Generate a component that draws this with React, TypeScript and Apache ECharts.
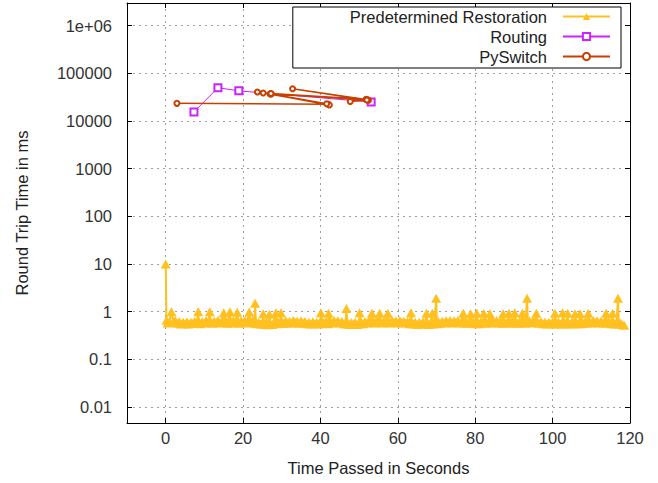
import React, { useEffect, useRef } from "react";
import * as echarts from "echarts";

// Predetermined Restoration: [time in s, round trip time in ms]
const restorationPoints: [number, number][] = [
  [0, 10], [0.2, 0.66], [0.5, 0.58], [1, 0.63], [1.5, 1.0], [2, 0.6], [2.5, 0.65], [3, 0.57], [3.5, 0.62], [4, 0.55],
  [4.5, 0.6], [5, 0.56], [5.5, 0.61], [6, 0.55], [6.5, 0.6], [7, 0.57], [7.5, 0.63], [8, 0.58], [8.4, 1.0], [8.5, 0.64],
  [9, 0.56], [9.5, 0.62], [10, 0.58],
  [10.5, 0.65], [11, 0.59], [11.4, 1.0], [11.5, 0.64], [12, 0.57], [12.5, 0.63], [13, 0.6], [13.5, 0.66], [14, 0.58],
  [14.5, 0.63], [15, 0.95], [15.2, 0.6], [15.5, 0.65], [16, 0.57], [16.6, 1.0], [16.8, 0.62], [17, 0.58], [17.5, 0.65],
  [18, 0.59], [18.5, 0.97], [18.7, 0.63], [19, 0.57], [19.5, 0.64], [20, 0.59],
  [20.5, 0.65], [21, 0.58], [21.6, 0.98], [21.8, 0.63], [22, 0.6], [22.5, 0.66], [23, 0.58], [23.1, 1.5], [23.3, 0.62],
  [23.5, 0.56], [24, 0.6], [24.5, 0.55], [25, 0.59], [25.2, 0.9], [25.5, 0.54], [26, 0.6], [26.5, 0.53], [26.8, 0.88],
  [27, 0.57], [27.5, 0.54], [28, 0.6], [28.5, 0.95], [28.7, 0.56], [29, 0.61], [29.5, 0.57], [29.8, 0.95], [30, 0.62],
  [30.5, 0.57], [31, 0.64], [31.5, 0.58], [32, 0.63], [32.5, 0.58], [33, 0.65], [33.5, 0.59], [34, 0.63], [34.5, 0.57],
  [35, 0.64], [35.5, 0.58], [36, 0.62], [36.5, 0.56], [37, 0.6], [37.5, 0.55], [38, 0.61], [38.5, 0.56], [39, 0.6],
  [39.5, 0.55], [40, 0.62], [40.1, 0.95], [40.3, 0.58],
  [40.5, 0.63], [41, 0.57], [41.5, 0.62], [42, 0.56], [42.1, 0.92], [42.3, 0.6], [42.5, 0.64], [43, 0.58], [43.5, 0.65],
  [44, 0.59], [44.5, 0.64], [45, 0.58], [45.5, 0.62], [46, 0.56], [46.5, 0.6], [46.7, 1.17], [46.9, 0.55], [47, 0.6],
  [47.5, 0.54], [48, 0.59], [48.5, 0.55], [49, 0.6], [49.5, 0.54], [50, 0.59], [50.1, 0.95], [50.3, 0.56],
  [50.5, 0.61], [51, 0.56], [51.5, 0.62], [52, 0.58], [52.5, 0.64], [53, 0.59], [53.3, 0.92], [53.5, 0.64], [54, 0.58],
  [54.5, 0.65], [55, 0.6], [55.3, 0.92], [55.5, 0.63], [56, 0.58], [56.5, 0.64], [57, 0.59], [57.4, 0.92], [57.6, 0.63],
  [58, 0.58], [58.5, 0.65], [59, 0.6], [59.5, 0.64], [60, 0.58],
  [60.5, 0.65], [61, 0.59], [61.5, 0.63], [62, 0.58], [62.5, 0.62], [63, 0.56], [63.4, 0.95], [63.6, 0.6], [64, 0.55],
  [64.5, 0.6], [65, 0.54], [65.5, 0.6], [66, 0.55], [66.5, 0.61], [67, 0.55], [67.4, 0.92], [67.6, 0.6], [68, 0.54],
  [68.5, 0.6], [68.9, 0.92], [69, 0.55], [69.5, 0.61], [69.9, 1.9], [70.1, 0.56],
  [70.5, 0.62], [71, 0.57], [71.5, 0.63], [72, 0.58], [72.5, 0.64], [73, 0.59], [73.5, 0.65], [74, 0.58], [74.5, 0.64],
  [75, 0.6], [75.5, 0.65], [76, 0.58], [76.5, 0.63], [76.9, 0.92], [77.1, 0.58], [77.5, 0.64], [78, 0.57], [78.5, 0.63],
  [78.8, 0.9], [79, 0.57], [79.5, 0.62], [80, 0.56],
  [80.4, 0.92], [80.6, 0.61], [81, 0.56], [81.5, 0.62], [82, 0.58], [82.2, 0.92], [82.5, 0.64], [83, 0.58], [83.5, 0.63],
  [83.8, 0.9], [84, 0.58], [84.5, 0.64], [85, 0.59], [85.5, 0.65], [86, 0.58], [86.5, 0.63], [87, 0.57], [87.2, 0.9],
  [87.5, 0.62], [88, 0.58], [88.5, 0.64], [88.7, 0.92], [89, 0.58], [89.5, 0.63], [90, 0.58],
  [90.2, 0.95], [90.5, 0.62], [91, 0.57], [91.5, 0.63], [92, 0.58], [92.2, 0.92], [92.5, 0.64], [93, 0.58], [93.4, 1.9],
  [93.6, 0.6], [94, 0.64], [94.5, 0.58], [95, 0.65], [95.5, 0.59], [95.8, 0.92], [96, 0.63], [96.5, 0.57], [97, 0.61],
  [97.5, 0.56], [98, 0.6], [98.5, 0.55], [99, 0.6], [99.5, 0.56], [100, 0.61],
  [100.5, 0.55], [100.6, 0.92], [100.8, 0.6], [101, 0.56], [101.5, 0.61], [102, 0.55], [102.5, 0.6], [102.6, 0.95],
  [102.8, 0.56], [103, 0.61], [103.5, 0.56], [103.9, 0.92], [104, 0.6], [104.5, 0.55], [105, 0.61], [105.5, 0.56],
  [105.8, 0.9], [106, 0.6], [106.5, 0.56], [107, 0.61], [107.1, 0.9], [107.3, 0.56], [107.5, 0.62], [108, 0.57],
  [108.5, 0.63], [109, 0.58], [109.2, 0.92], [109.5, 0.63], [110, 0.58],
  [110.5, 0.65], [111, 0.59], [111.5, 0.64], [112, 0.58], [112.5, 0.63], [113, 0.58], [113.5, 0.64], [113.8, 0.92],
  [114, 0.58], [114.5, 0.62], [115, 0.56], [115.5, 0.92], [115.7, 0.6], [116, 0.55], [116.5, 0.6], [116.9, 1.9],
  [117.1, 0.55], [117.5, 0.58], [118, 0.54], [118.5, 0.52],
];

const routingPoints: [number, number][] = [
  [7.3, 15500], [13.5, 50000], [18.9, 43000], [53.1, 25000],
];

const pyswitchPoints: [number, number][] = [
  [2.9, 23500], [42.0, 22500], [23.7, 40600], [25.2, 38700], [27.1, 37500], [42.3, 21800],
  [27.0, 37000], [41.6, 23000], [27.3, 36800], [52.2, 28000], [32.8, 47700], [52.4, 27200],
  [27.2, 37800], [51.8, 28500], [47.7, 25800], [52.0, 27600],
];

const seriesNames = ["Predetermined Restoration", "Routing", "PySwitch"];
const xLabelStep = 20;

const FONT = "Liberation Sans, Arial, sans-serif";
const FS = 16.5;

export default function App() {
  const ref = useRef<HTMLDivElement>(null);
  useEffect(() => {
    if (!ref.current) return;
    const chart = echarts.init(ref.current, undefined, { renderer: "svg" });
    const grid = { left: 127, right: 28, top: 3, bottom: 60 };
    const splitLine = { show: true, lineStyle: { color: "#a0a0a0", type: [2, 4] as any, width: 1 } };
    const axisLine = { show: true, onZero: false, lineStyle: { color: "#000", width: 1 } };
    const axisTick = { show: true, inside: true, length: 5, lineStyle: { color: "#000" } };
    chart.setOption({
      animation: false,
      textStyle: { fontFamily: FONT },
      grid,
      legend: {
        data: seriesNames,
        orient: "vertical",
        align: "right",
        right: 37,
        top: 7,
        padding: [1, 10, 3, 57],
        itemWidth: 47,
        itemHeight: 9,
        itemGap: 3,
        backgroundColor: "#fff",
        borderColor: "#000",
        borderWidth: 1,
        borderRadius: 0,
        textStyle: { fontSize: FS, color: "#222", fontFamily: FONT, padding: [0, 11, 0, 0] },
      },
      xAxis: [
        {
          type: "value",
          min: -10,
          max: 120,
          splitNumber: 130 / xLabelStep,
          position: "bottom",
          name: "Time Passed in Seconds",
          nameLocation: "middle",
          nameGap: 36,
          nameTextStyle: { fontSize: FS, color: "#222", fontFamily: FONT },
          axisLine,
          axisTick,
          axisLabel: { fontSize: FS, color: "#333", margin: 6, showMinLabel: false, fontFamily: FONT },
          splitLine,
        },
        {
          type: "value",
          min: -10,
          max: 120,
          splitNumber: 130 / xLabelStep,
          position: "top",
          axisLine,
          axisTick,
          axisLabel: { show: false },
          splitLine: { show: false },
        },
      ],
      yAxis: [
        {
          type: "log",
          logBase: 10,
          min: 0.0046,
          max: 3e6,
          position: "left",
          name: "Round Trip Time in ms",
          nameLocation: "middle",
          nameGap: 97,
          nameTextStyle: { fontSize: FS, color: "#222", fontFamily: FONT },
          axisLine,
          axisTick,
          axisLabel: {
            fontSize: FS,
            color: "#333",
            margin: 15,
            showMinLabel: false,
            showMaxLabel: false,
            fontFamily: FONT,
            formatter: (v: number) => (v >= 1e6 ? "1e+06" : String(v)),
          },
          splitLine,
          minorTick: { show: false },
        },
        {
          type: "log",
          logBase: 10,
          min: 0.0046,
          max: 3e6,
          position: "right",
          axisLine,
          axisTick,
          axisLabel: { show: false },
          splitLine: { show: false },
        },
      ],
      series: [
        {
          name: seriesNames[0],
          type: "line",
          data: restorationPoints,
          symbol: "triangle",
          symbolSize: [10, 9],
          showAllSymbol: true,
          itemStyle: { color: "#ffc020" },
          lineStyle: { color: "#ffc020", width: 2 },
        },
        {
          name: seriesNames[1],
          type: "line",
          data: routingPoints,
          symbol: "emptyRect",
          symbolSize: 7,
          showAllSymbol: true,
          itemStyle: { color: "#cc22ff", borderWidth: 1 },
          lineStyle: { color: "#cc22ff", width: 1 },
        },
        {
          name: seriesNames[2],
          type: "line",
          data: pyswitchPoints,
          symbol: "emptyCircle",
          symbolSize: 5,
          showAllSymbol: true,
          itemStyle: { color: "#c84000", borderWidth: 1.5 },
          lineStyle: { color: "#c84000", width: 1.5 },
        },
      ],
    });
    return () => chart.dispose();
  }, []);
  return (
    <div
      ref={ref}
      style={{ position: "fixed", left: 0, top: 0, width: 658, height: 483, background: "#fff" }}
    />
  );
}
